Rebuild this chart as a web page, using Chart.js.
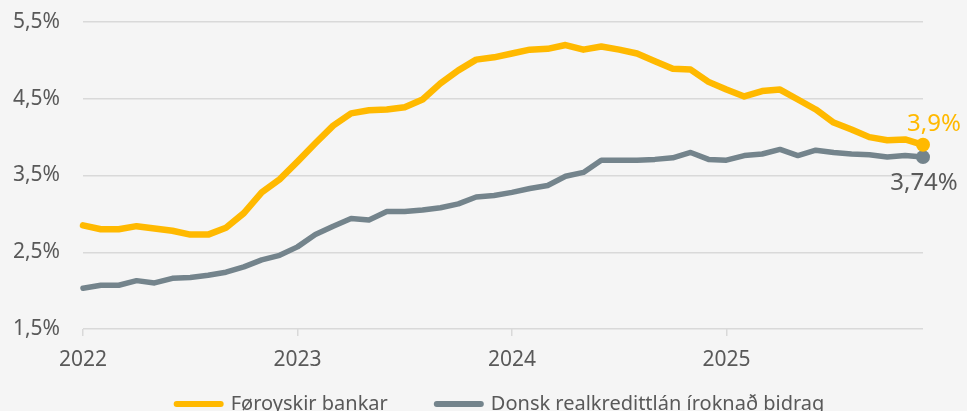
<!DOCTYPE html>
<html>
<head>
<meta charset="utf-8">
<script src="https://cdn.jsdelivr.net/npm/chart.js@4.4.1/dist/chart.umd.min.js"></script>
<style>
  html, body { margin: 0; padding: 0; background: #f5f5f5; }
  #wrap { width: 967px; height: 411px; }
</style>
</head>
<body>
<div id="wrap"><canvas id="rateChart" width="967" height="411"></canvas></div>
<script>
const months = [
  "2022-01", "2022-02", "2022-03", "2022-04", "2022-05", "2022-06",
  "2022-07", "2022-08", "2022-09", "2022-10", "2022-11", "2022-12",
  "2023-01", "2023-02", "2023-03", "2023-04", "2023-05", "2023-06",
  "2023-07", "2023-08", "2023-09", "2023-10", "2023-11", "2023-12",
  "2024-01", "2024-02", "2024-03", "2024-04", "2024-05", "2024-06",
  "2024-07", "2024-08", "2024-09", "2024-10", "2024-11", "2024-12",
  "2025-01", "2025-02", "2025-03", "2025-04", "2025-05", "2025-06",
  "2025-07", "2025-08", "2025-09", "2025-10", "2025-11", "2025-12"
];

const faroeBanks = [
  2.85, 2.80, 2.80, 2.84, 2.81, 2.78, 2.73, 2.73, 2.82, 3.01, 3.28, 3.45,
  3.68, 3.92, 4.15, 4.31, 4.35, 4.36, 4.39, 4.49, 4.70, 4.87, 5.01, 5.04,
  5.09, 5.14, 5.15, 5.20, 5.14, 5.18, 5.14, 5.09, 4.99, 4.89, 4.88, 4.72,
  4.62, 4.53, 4.60, 4.62, 4.49, 4.36, 4.19, 4.10, 4.00, 3.96, 3.97, 3.90
];

const danishMortgage = [
  2.03, 2.07, 2.07, 2.13, 2.10, 2.16, 2.17, 2.20, 2.24, 2.31, 2.40, 2.46,
  2.57, 2.73, 2.84, 2.94, 2.92, 3.03, 3.03, 3.05, 3.08, 3.13, 3.22, 3.24,
  3.28, 3.33, 3.37, 3.49, 3.54, 3.70, 3.70, 3.70, 3.71, 3.73, 3.80, 3.71,
  3.70, 3.76, 3.78, 3.84, 3.76, 3.83, 3.80, 3.78, 3.77, 3.74, 3.76, 3.74
];

const seriesNames = ["Føroyskir bankar", "Donsk realkredittlán íroknað bidrag"];
const endLabels = ["3,9%", "3,74%"];

const YELLOW = "#ffb900";
const GRAY = "#74848c";
const TEXT = "#595959";
const GRID = "#d9d9d9";
const FONT = "'Noto Sans', 'Open Sans', sans-serif";

const lastIndex = months.length - 1;

function lastPointRadius(ctx) {
  return ctx.dataIndex === lastIndex ? 7 : 0;
}

// value labels next to the last points
const endLabelPlugin = {
  id: "endLabels",
  afterDatasetsDraw(chart) {
    const ctx = chart.ctx;
    ctx.save();
    ctx.textAlign = "center";
    ctx.textBaseline = "middle";
    ctx.font = "24px " + FONT;
    const dx = [11, 1];
    const dy = [-21, 26];
    chart.data.datasets.forEach((ds, i) => {
      const pt = chart.getDatasetMeta(i).data[lastIndex];
      ctx.fillStyle = i === 0 ? YELLOW : TEXT;
      ctx.fillText(endLabels[i], pt.x + dx[i], pt.y + dy[i]);
    });
    ctx.restore();
  }
};

// legend drawn by hand so it can sit at the very bottom edge
const bottomLegend = {
  id: "bottomLegend",
  afterDraw(chart) {
    const ctx = chart.ctx;
    const area = chart.chartArea;
    ctx.save();
    ctx.font = "20px " + FONT;
    ctx.textBaseline = "middle";
    const lineW = 50, gap = 7, itemGap = 46;
    const widths = chart.data.datasets.map(ds => lineW + gap + ctx.measureText(ds.label).width);
    const total = widths.reduce((a, b) => a + b, 0) + itemGap * (widths.length - 1);
    let x = (area.left + area.right) / 2 - total / 2 - 4;
    const y = 404;
    chart.data.datasets.forEach((ds, i) => {
      ctx.strokeStyle = ds.borderColor;
      ctx.lineWidth = 6;
      ctx.lineCap = "round";
      ctx.beginPath();
      ctx.moveTo(x + 3, y);
      ctx.lineTo(x + lineW - 3, y);
      ctx.stroke();
      ctx.fillStyle = TEXT;
      ctx.fillText(ds.label, x + lineW + gap, y);
      x += widths[i] + itemGap;
    });
    ctx.restore();
  }
};

const bgPlugin = {
  id: "bg",
  beforeDraw(chart) {
    const ctx = chart.ctx;
    ctx.save();
    ctx.fillStyle = "#f5f5f5";
    ctx.fillRect(0, 0, chart.width, chart.height);
    ctx.restore();
  }
};

new Chart(document.getElementById("rateChart"), {
  type: "line",
  data: {
    labels: months,
    datasets: [
      {
        label: seriesNames[0],
        data: faroeBanks,
        borderColor: YELLOW,
        backgroundColor: YELLOW,
        borderWidth: 6.5,
        borderJoinStyle: "round",
        borderCapStyle: "round",
        tension: 0,
        pointRadius: lastPointRadius,
        pointHoverRadius: 0,
        pointBorderWidth: 0,
        pointBackgroundColor: YELLOW
      },
      {
        label: seriesNames[1],
        data: danishMortgage,
        borderColor: GRAY,
        backgroundColor: GRAY,
        borderWidth: 5.5,
        borderJoinStyle: "round",
        borderCapStyle: "round",
        tension: 0,
        pointRadius: lastPointRadius,
        pointHoverRadius: 0,
        pointBorderWidth: 0,
        pointBackgroundColor: GRAY
      }
    ]
  },
  options: {
    responsive: false,
    animation: false,
    events: [],
    layout: { padding: { top: 22, right: 44, left: 0, bottom: 0 } },
    plugins: {
      legend: { display: false },
      tooltip: { enabled: false }
    },
    scales: {
      x: {
        type: "category",
        offset: false,
        afterBuildTicks(axis) {
          axis.ticks = axis.ticks.filter(t => t.value % 12 === 0);
        },
        afterFit(axis) {
          axis.height = 82;
          axis.paddingLeft = 0;
          axis.paddingRight = 0;
        },
        border: { display: false },
        grid: {
          drawOnChartArea: false,
          drawTicks: true,
          tickLength: 7,
          color: GRID,
          lineWidth: 1.5
        },
        ticks: {
          autoSkip: false,
          maxRotation: 0,
          padding: 11,
          color: TEXT,
          font: { size: 21, family: FONT },
          callback(value) { return months[value].slice(0, 4); }
        }
      },
      y: {
        min: 1.5,
        max: 5.5,
        afterFit(axis) {
          axis.width = 83;
          axis.paddingTop = 0;
          axis.paddingBottom = 0;
        },
        border: { display: false },
        grid: { color: GRID, lineWidth: 1.5, drawTicks: false },
        ticks: {
          stepSize: 1,
          padding: 23,
          color: TEXT,
          font: { size: 21, family: FONT },
          callback(v) { return v.toFixed(1).replace(".", ",") + "%"; }
        }
      }
    }
  },
  plugins: [bgPlugin, endLabelPlugin, bottomLegend]
});
</script>
</body>
</html>
